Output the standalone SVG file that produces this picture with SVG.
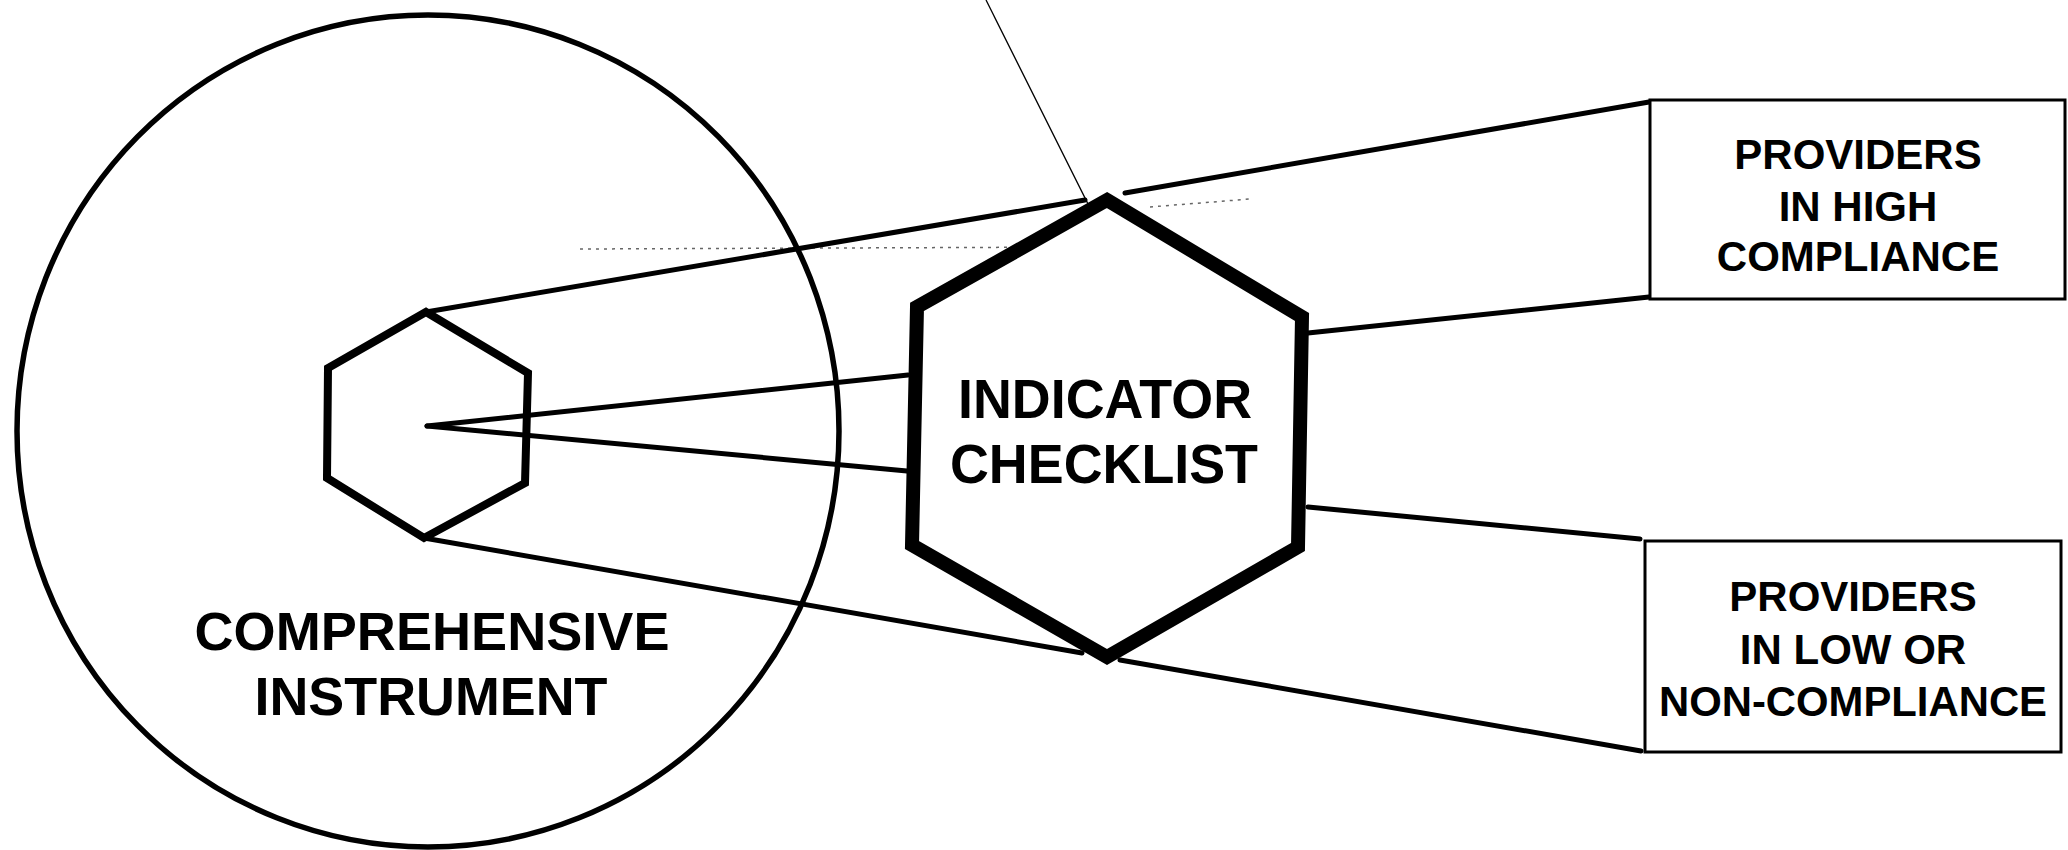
<svg xmlns="http://www.w3.org/2000/svg" width="2068" height="850" viewBox="0 0 2068 850">
<style>
.ln{fill:none;stroke:#000;stroke-width:5;stroke-linecap:round}
.thin{fill:none;stroke:#000;stroke-width:1.3}
.dot{fill:none;stroke:#666;stroke-width:1.5;stroke-dasharray:3 5}
.hex{fill:#fff;stroke:#000;stroke-linejoin:miter}
.box{fill:#fff;stroke:#000;stroke-width:3}
.t{font-family:"Liberation Sans",Arial,sans-serif;fill:#000;text-anchor:middle}
</style>
<rect width="2068" height="850" fill="#fff"/>
<g id="comprehensive-instrument">
<ellipse cx="428" cy="431" rx="411" ry="416" fill="none" stroke="#000" stroke-width="5.5"/>
<text class="t" x="432" y="650" font-size="53" font-weight="bold" textLength="475" lengthAdjust="spacingAndGlyphs">COMPREHENSIVE</text>
<text class="t" x="431" y="715" font-size="53" font-weight="bold" textLength="353" lengthAdjust="spacingAndGlyphs">INSTRUMENT</text>
</g>
<g id="connectors">
<line class="thin" x1="986" y1="0" x2="1121" y2="270"/>
<line class="dot" x1="580" y1="249" x2="1095" y2="247"/>
<line class="dot" x1="1150" y1="207" x2="1250" y2="199"/>
<line class="ln" x1="426" y1="312" x2="1085" y2="200"/>
<line class="ln" x1="1125" y1="193" x2="1649" y2="102"/>
<line class="ln" x1="427" y1="426" x2="908" y2="375"/>
<line class="ln" x1="427" y1="426" x2="907" y2="471"/>
<line class="ln" x1="424" y1="538" x2="1082" y2="653"/>
<line class="ln" x1="1120" y1="660" x2="1641" y2="751"/>
<line class="ln" x1="1308" y1="333" x2="1649" y2="297"/>
<line class="ln" x1="1308" y1="507" x2="1640" y2="539"/>
</g>
<g id="small-hexagon">
<polygon class="hex" style="fill:none" stroke-width="8" points="426,312 528,373 525,483 424,538 327,478 328,368"/>
</g>
<g id="indicator-checklist">
<polygon class="hex" stroke-width="14" points="1107,200 1302,317 1298,547 1107,657 912,545 917,307"/>
<text class="t" x="1105" y="418" font-size="55" font-weight="bold" textLength="294" lengthAdjust="spacingAndGlyphs">INDICATOR</text>
<text class="t" x="1104" y="483" font-size="55" font-weight="bold" textLength="308" lengthAdjust="spacingAndGlyphs">CHECKLIST</text>
</g>
<g id="high-compliance">
<rect class="box" x="1650" y="100" width="415" height="199"/>
<text class="t" x="1858" y="169" font-size="42" font-weight="bold">PROVIDERS</text>
<text class="t" x="1858" y="221" font-size="42" font-weight="bold">IN HIGH</text>
<text class="t" x="1858" y="271" font-size="42" font-weight="bold">COMPLIANCE</text>
</g>
<g id="low-compliance">
<rect class="box" x="1645" y="541" width="416" height="211"/>
<text class="t" x="1853" y="611" font-size="42" font-weight="bold">PROVIDERS</text>
<text class="t" x="1853" y="664" font-size="42" font-weight="bold">IN LOW OR</text>
<text class="t" x="1853" y="716" font-size="42" font-weight="bold" textLength="388" lengthAdjust="spacingAndGlyphs">NON-COMPLIANCE</text>
</g>
</svg>
